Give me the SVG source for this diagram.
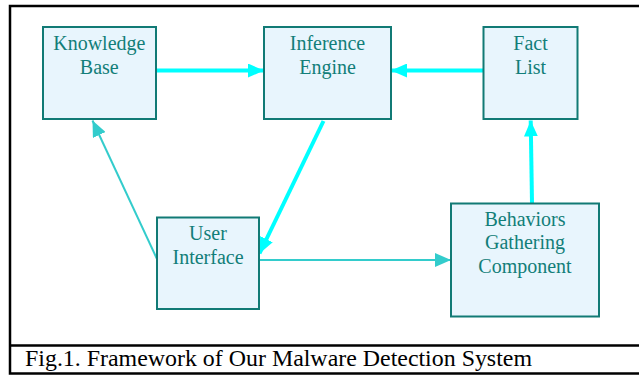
<svg xmlns="http://www.w3.org/2000/svg" width="639" height="375" viewBox="0 0 639 375">
<style>
.box{fill:#e8f5fd;stroke:#117a75;stroke-width:2}
.lbl{font-family:"Liberation Serif","Times New Roman","DejaVu Serif",serif;font-size:20px;fill:#127e79;text-anchor:middle}
.thick{stroke:#00ffff;stroke-width:4;fill:none}
.thin{stroke:#33cccc;stroke-width:2;fill:none}
.frame{stroke:#000;stroke-width:2.5;fill:none}
.cap{font-family:"Liberation Serif","Times New Roman","DejaVu Serif",serif;font-size:23px;fill:#000}
</style>
<defs>
<marker id="ah" viewBox="0 0 16 14" refX="16" refY="7" markerWidth="16" markerHeight="14" markerUnits="userSpaceOnUse" orient="auto"><path d="M0,0 L16,7 L0,14 Z" fill="#00ffff"/></marker>
<marker id="ahs" viewBox="0 0 16 14" refX="16" refY="7" markerWidth="16" markerHeight="14" markerUnits="userSpaceOnUse" orient="auto"><path d="M0,0 L16,7 L0,14 Z" fill="#33cccc"/></marker>
</defs>
<rect width="639" height="375" fill="#fff"/>
<g id="frame">
<path class="frame" d="M639,6 H10 V373.5 H639 M10,345.5 H639"/>
<text class="cap" x="25" y="366" textLength="507" lengthAdjust="spacingAndGlyphs">Fig.1. Framework of Our Malware Detection System</text>
</g>
<g id="connectors">
<line class="thick" x1="157" y1="70.5" x2="264" y2="70.5" marker-end="url(#ah)"/>
<line class="thick" x1="483" y1="70.5" x2="391" y2="70.5" marker-end="url(#ah)"/>
<line class="thick" x1="323.5" y1="121" x2="259.5" y2="253.5" marker-end="url(#ah)"/>
<line class="thin" x1="157" y1="259" x2="92.5" y2="120.5" marker-end="url(#ahs)"/>
<line class="thin" x1="255" y1="260" x2="451" y2="260" marker-end="url(#ahs)"/>
<line class="thick" x1="532" y1="203" x2="530.7" y2="120.5" marker-end="url(#ah)"/>
</g>
<g id="knowledge-base">
<rect class="box" x="43" y="27" width="113" height="92"/>
<text class="lbl" x="99.3" y="49.5">Knowledge</text>
<text class="lbl" x="99.3" y="73.5">Base</text>
</g>
<g id="inference-engine">
<rect class="box" x="264" y="27" width="127" height="92"/>
<text class="lbl" x="327.5" y="49.5">Inference</text>
<text class="lbl" x="327.5" y="73.5">Engine</text>
</g>
<g id="fact-list">
<rect class="box" x="483.5" y="27" width="94" height="92"/>
<text class="lbl" x="530.5" y="49.5">Fact</text>
<text class="lbl" x="530.5" y="73.5">List</text>
</g>
<g id="user-interface">
<rect class="box" x="157" y="217.5" width="102" height="91.5"/>
<text class="lbl" x="208" y="240">User</text>
<text class="lbl" x="208" y="264">Interface</text>
</g>
<g id="behaviors-gathering">
<rect class="box" x="451" y="203.5" width="148" height="113"/>
<text class="lbl" x="525" y="225.5">Behaviors</text>
<text class="lbl" x="525" y="249">Gathering</text>
<text class="lbl" x="525" y="272.5">Component</text>
</g>
</svg>
